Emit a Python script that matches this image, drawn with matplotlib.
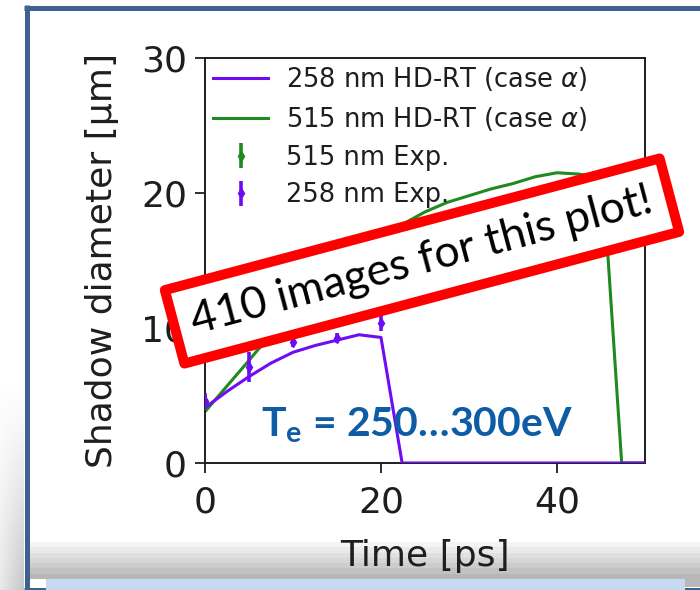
import numpy as np
import matplotlib
matplotlib.use("Agg")
import matplotlib.pyplot as plt
from matplotlib.patches import Rectangle

# ---------------- data ----------------
t_258_sim = [0, 2.5, 5, 7.5, 10, 12.5, 15, 17.5, 20, 22.4, 25, 30, 35, 40, 45, 50]
d_258_sim = [4.1, 5.3, 6.4, 7.4, 8.2, 8.7, 9.1, 9.5, 9.3, 0, 0, 0, 0, 0, 0, 0]

t_515_sim = [0, 5, 10, 15, 20, 25, 27.5, 30, 32.5, 35, 37.5, 40, 42.5, 45.2, 47.35, 50]
d_515_sim = [3.8, 7.6, 11.5, 14.5, 16.8, 18.6, 19.3, 19.8, 20.3, 20.7, 21.2, 21.5, 21.4, 21.1, 0, 0]

t_515_exp = [0, 5, 10, 15, 20]
d_515_exp = [4.5, 9.6, 12.0, 14.2, 16.3]
e_515_exp = [0.6, 0.8, 0.7, 0.7, 0.8]

t_258_exp = [0, 5, 10, 15, 20]
d_258_exp = [4.6, 7.1, 8.95, 9.25, 10.4]
e_258_exp = [0.6, 1.1, 0.35, 0.35, 0.6]

x_ticks = [0, 20, 40]
y_ticks = [0, 10, 20, 30]

label_258_sim = "258 nm HD-RT (case $\\alpha$)"
label_515_sim = "515 nm HD-RT (case $\\alpha$)"
label_515_exp = "515 nm Exp."
label_258_exp = "258 nm Exp."
x_label = "Time [ps]"
y_label = "Shadow diameter [\u03bcm]"
banner_text = "410 images for this plot!"
te_text = "$\\mathbf{T_e}$ = 250\u2026300eV"

PURPLE = "#6f0cf5"
GREEN = "#1f8a1f"
TXT = '#1e1e1e'

plt.rcParams['font.family'] = ['DejaVu Sans']
plt.rcParams['mathtext.fontset'] = 'custom'
plt.rcParams['mathtext.bf'] = 'Lato:bold'
plt.rcParams['mathtext.rm'] = 'DejaVu Sans'
plt.rcParams['mathtext.it'] = 'DejaVu Sans:italic'

W, H = 700, 590
fig = plt.figure(figsize=(W / 100, H / 100), dpi=100)
fig.patch.set_facecolor('white')

# ---------------- background / slide decoration ----------------
bg = fig.add_axes([0, 0, 1, 1], zorder=-10)
bg.set_xlim(0, W)
bg.set_ylim(H, 0)
bg.axis('off')

# left soft shadow
ny, nx = 60, 12
fy = np.linspace(0, 1, ny)[:, None]
fx = np.linspace(0, 1, nx)[None, :]
shade = 1 - 0.22 * (fy ** 1.2) * (0.4 + 0.6 * fx)
img = np.dstack([shade] * 3)
bg.imshow(img, extent=(0, 24, H, 380), origin='upper', aspect='auto',
          interpolation='nearest', zorder=1)

# bottom gray gradient inside frame
ny2 = 8
g = np.linspace(1.0, 0.72, ny2)[:, None] * np.ones((1, 2))
img2 = np.dstack([g] * 3)
bg.imshow(img2, extent=(29, W, 579, 537), origin='upper', aspect='auto',
          interpolation='nearest', zorder=1)

# light blue strip at bottom
bg.add_patch(Rectangle((46, 579), 639, 12, facecolor='#c6d9f0', edgecolor='none', zorder=3))
bg.add_patch(Rectangle((685, 579), 15, 8, facecolor='#b8b8b8', edgecolor='none', zorder=2))

# frame
FRAME = '#3d6290'
bg.plot([26.5, 26.5], [5, 590], color=FRAME, lw=5 * 0.72, solid_capstyle='butt', zorder=2)
bg.plot([24, W], [7.5, 7.5], color=FRAME, lw=5 * 0.72, solid_capstyle='butt', zorder=2)
bg.plot([24, W], [588.5, 588.5], color=FRAME, lw=3 * 0.72, solid_capstyle='butt', zorder=2)

# ---------------- main axes ----------------
ax = fig.add_axes([205 / W, (H - 463) / H, 440 / W, 405 / H])
ax.set_xlim(0, 50)
ax.set_ylim(0, 30)

ax.plot(t_258_sim, d_258_sim, color=PURPLE, lw=2.2, label=label_258_sim, zorder=3)
ax.plot(t_515_sim, d_515_sim, color=GREEN, lw=2.2, label=label_515_sim, zorder=2)
ax.errorbar(t_515_exp, d_515_exp, yerr=e_515_exp, fmt='d', color=GREEN, ms=5,
            elinewidth=2.6, capsize=0, label=label_515_exp, zorder=4)
ax.errorbar(t_258_exp, d_258_exp, yerr=e_258_exp, fmt='d', color=PURPLE, ms=5,
            elinewidth=2.6, capsize=0, label=label_258_exp, zorder=5)

ax.set_xticks(x_ticks)
ax.set_yticks(y_ticks)
ax.tick_params(direction='out', length=7, width=1.3, labelsize=26, colors=TXT,
               top=False, right=False)
ax.tick_params(axis='x', pad=9)
ax.tick_params(axis='y', pad=6)
for s in ax.spines.values():
    s.set_linewidth(1.4)
    s.set_color(TXT)

ax.set_xlabel(x_label, fontsize=26, color=TXT, labelpad=14)
ax.set_ylabel(y_label, fontsize=26, color=TXT, labelpad=16)

leg = ax.legend(loc='upper left', bbox_to_anchor=((213 - 205) / 440, (463 - 65) / 405),
                frameon=False, fontsize=18.5, borderaxespad=0, borderpad=0,
                handlelength=2.15, handletextpad=0.7, labelspacing=0.46)
for t in leg.get_texts():
    t.set_color(TXT)

# ---------------- T_e annotation ----------------
fig.text(261 / W, (H - 437) / H, te_text, fontsize=29.5, color='#0f5ca6',
         family='Lato', fontweight='bold', ha='left', va='baseline', zorder=20)

# ---------------- red banner ----------------
cx, cy = 422, 261
bw, bh = 512, 76
ang = 14.9
rect = Rectangle(((cx - bw / 2) / 100, (H - cy - bh / 2) / 100), bw / 100, bh / 100,
                 angle=ang, rotation_point='center', transform=fig.dpi_scale_trans,
                 facecolor='white', edgecolor='#ff0000', lw=10 * 0.72,
                 joinstyle='round', zorder=30)
fig.add_artist(rect)

bt = fig.text(cx / W, (H - cy) / H, banner_text, fontsize=30, family='Lato',
              color='black', ha='center', va='center', rotation=0,
              rotation_mode='anchor', zorder=31)
fig.canvas.draw()
r = fig.canvas.get_renderer()
wpx = bt.get_window_extent(r).width
bt.set_fontsize(30 * 476 / wpx)
bt.set_rotation(ang)

fig.savefig('out.png', dpi=100, facecolor='white')
